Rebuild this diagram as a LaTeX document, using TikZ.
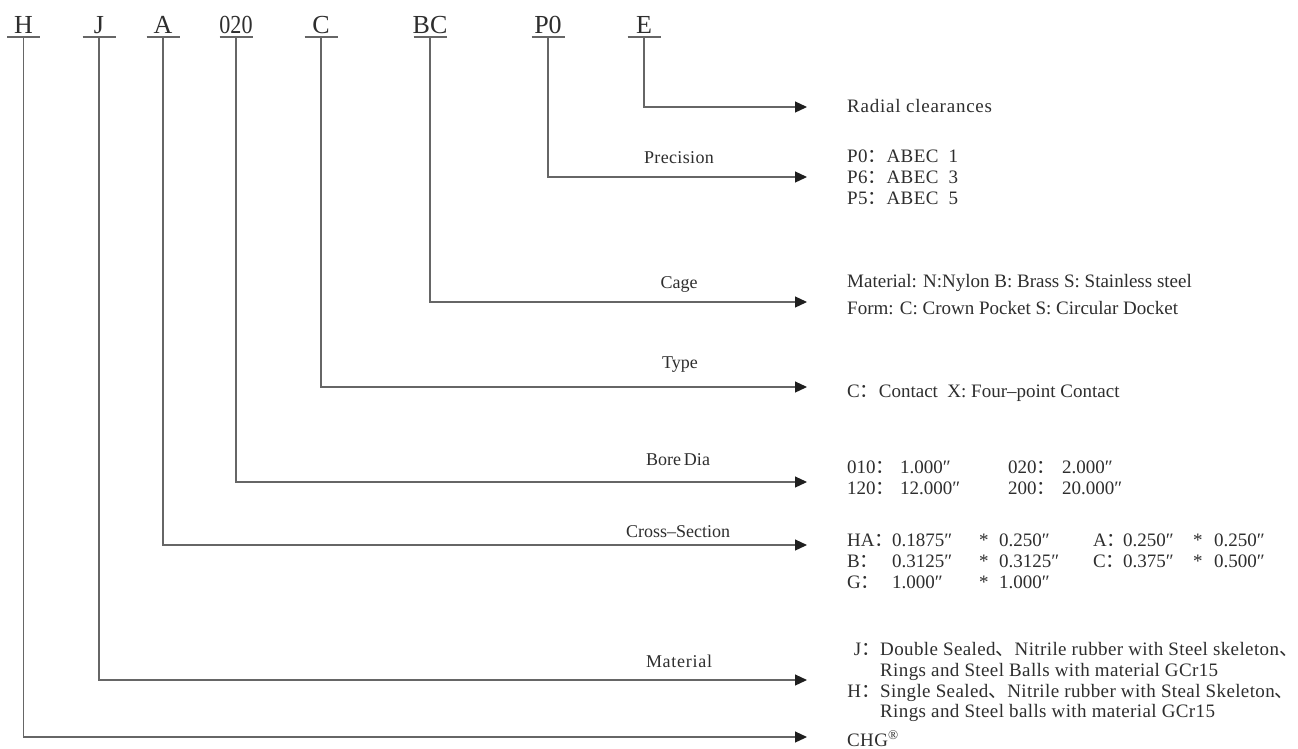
\documentclass[tikz,border=0pt]{standalone}
\usepackage{fontspec}
\setmainfont{Liberation Serif}
\newfontfamily\cjk{Noto Sans CJK SC}
\newfontfamily\spaced[LetterSpace=4]{Liberation Serif}
\newfontfamily\slspaced[LetterSpace=2]{Liberation Serif}
\usetikzlibrary{arrows.meta}
\newcommand{\cc}{{\cjk ：}}
\newcommand{\dn}{{\cjk 、}}
\newcommand{\xrow}[8]{\makebox[45pt][l]{#1}\makebox[87pt][l]{#2}\makebox[20pt][l]{#3}\makebox[94pt][l]{#4}\makebox[30pt][l]{#5}\makebox[70pt][l]{#6}\makebox[21pt][l]{#7}#8}
\newcommand{\brow}[4]{\makebox[53pt][l]{#1}\makebox[108pt][l]{#2}\makebox[54pt][l]{#3}#4}
\definecolor{txt}{gray}{0.18}
\definecolor{lin}{gray}{0.40}
\begin{document}
\begin{tikzpicture}[x=1pt,y=-1pt,
  code/.style={font=\fontsize{26}{28}\selectfont, anchor=base, inner sep=0pt, text=txt},
  lab/.style={font=\fontsize{18}{20}\selectfont, anchor=base, inner sep=0pt, text=txt},
  desc/.style={font=\fontsize{19}{21}\selectfont, anchor=base west, inner sep=0pt, text=txt},
  conn/.style={draw=lin, line width=1.2pt, -{Triangle[length=12pt,width=11pt,color=black!88]}},
  uline/.style={draw=lin, line width=1.2pt}]
\useasboundingbox (0,0) rectangle (1298,748);
\fill[white] (0,0) rectangle (1298,748);

% code letters
\node[code] (cH) at (23.5,33) {H};
\node[code] (cJ) at (99,33) {J};
\node[code] (cA) at (163,33) {A};
\node[code] (c020) at (236,33) {\scalebox{0.85}[1]{020}};
\node[code] (cC) at (321,33) {C};
\node[code] (cBC) at (430,33) {BC};
\node[code] (cP0) at (548,33) {P0};
\node[code] (cE) at (644,33) {E};

% underline anchors
\coordinate (uH) at (23.5,37);
\coordinate (uJ) at (99,37);
\coordinate (uA) at (163,37);
\coordinate (u020) at (236,37);
\coordinate (uC) at (321,37);
\coordinate (uBC) at (430,37);
\coordinate (uP0) at (548,37);
\coordinate (uE) at (644,37);
\foreach \u in {uH,uJ,uA,u020,uC,uBC,uP0,uE}
  \draw[uline] ([xshift=-16.5pt]\u) -- ([xshift=16.5pt]\u);

% arrow tips
\coordinate (tE) at (807,107);
\coordinate (tP0) at (807,177);
\coordinate (tBC) at (807,302);
\coordinate (tC) at (807,387);
\coordinate (t020) at (807,482);
\coordinate (tA) at (807,545);
\coordinate (tJ) at (807,680);
\coordinate (tH) at (807,737);

\draw[conn] (uE) |- (tE);
\draw[conn] (uP0) |- (tP0);
\draw[conn] (uBC) |- (tBC);
\draw[conn] (uC) |- (tC);
\draw[conn] (u020) |- (t020);
\draw[conn] (uA) |- (tA);
\draw[conn] (uJ) |- (tJ);
\draw[conn] (uH) |- (tH);

% labels over lines
\node[lab] (lPrec) at (679,163) {{\slspaced Precision}};
\node[lab] (lCage) at (679,288) {Cage};
\node[lab] (lType) at (680,368) {Type};
\node[lab] (lBore) at (678,465) {Bore\hspace{3pt}Dia};
\node[lab] (lCross) at (678,537) {Cross–Section};
\node[lab] (lMat) at (679,667) {{\spaced Material}};

% descriptions
\node[desc] (dRad) at (847,112) {{\spaced Radial clearances}};
\node[desc] (dP0) at (847,162) {{\slspaced P0\cc ABEC\ \ 1}};
\node[desc] (dP6) at (847,183) {{\slspaced P6\cc ABEC\ \ 3}};
\node[desc] (dP5) at (847,204) {{\slspaced P5\cc ABEC\ \ 5}};
\node[desc] (dCage1) at (847,287) {Material: N:Nylon B: Brass S: Stainless steel};
\node[desc] (dCage2) at (847,314) {Form: C: Crown Pocket S: Circular Docket};
\node[desc] (dType) at (847,397) {C\cc Contact\ \ X: Four–point Contact};
\node[desc] (dB1) at (847,473) {\brow{010\cc}{1.000″}{020\cc}{2.000″}};
\node[desc] (dB2) at (847,494) {\brow{120\cc}{12.000″}{200\cc}{20.000″}};
\node[desc] (dX1) at (847,546) {\xrow{HA\cc}{0.1875″}{*}{0.250″}{A\cc}{0.250″}{*}{0.250″}};
\node[desc] (dX2) at (847,567) {\xrow{B\cc}{0.3125″}{*}{0.3125″}{C\cc}{0.375″}{*}{0.500″}};
\node[desc] (dX3) at (847,588) {\xrow{G\cc}{1.000″}{*}{1.000″}{}{}{}{}};
\node[desc] (dM1) at (847,655) {\makebox[33pt][r]{J\cc}{\slspaced Double Sealed}\dn{\slspaced Nitrile rubber with Steel skeleton}\dn};
\node[desc] (dM2) at (847,676) {\hspace{33pt}{\slspaced Rings and Steel Balls with material GCr15}};
\node[desc] (dM3) at (847,697) {\makebox[33pt][r]{H\cc}{\slspaced Single Sealed}\dn{\slspaced Nitrile rubber with Steal Skeleton}\dn};
\node[desc] (dM4) at (847,717) {\hspace{33pt}{\slspaced Rings and Steel balls with material GCr15}};
\node[desc] (dCHG) at (847,746) {{\slspaced CHG}\textsuperscript{®}};
\end{tikzpicture}
\end{document}
